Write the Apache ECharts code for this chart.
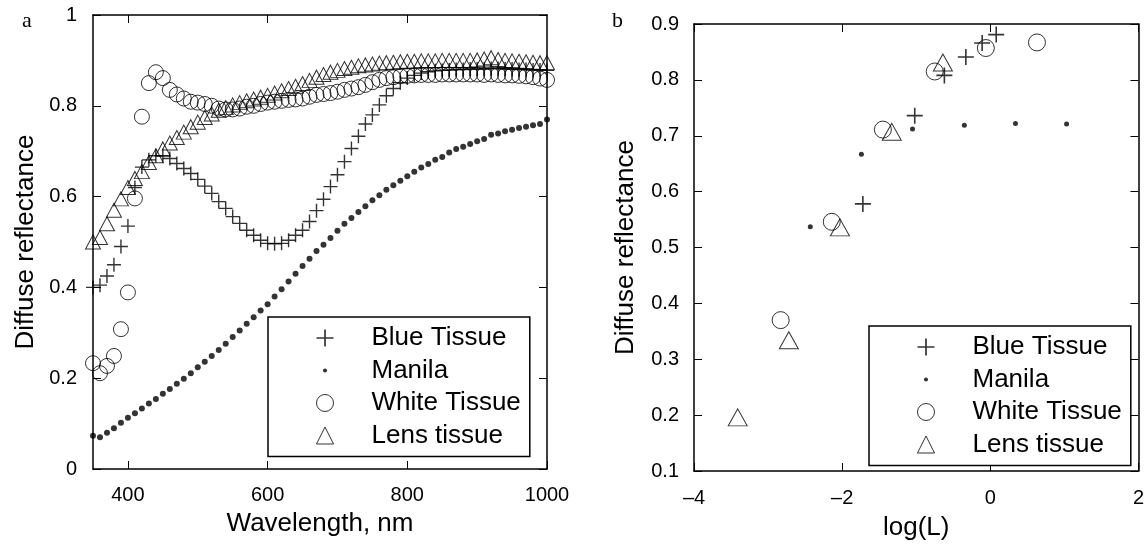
<!DOCTYPE html>
<html>
<head>
<meta charset="utf-8">
<script src="https://cdn.jsdelivr.net/npm/echarts@6/dist/echarts.min.js"></script>
</head>
<body style="margin:0">
<div id="container" style="width:1147px;height:546px"></div>
<script>
// panel a: reflectance spectra, one point every 10 nm
var wavelength = [350, 360, 370, 380, 390, 400, 410, 420, 430, 440, 450, 460, 470, 480, 490, 500, 510, 520, 530, 540,
  550, 560, 570, 580, 590, 600, 610, 620, 630, 640, 650, 660, 670, 680, 690, 700, 710, 720, 730, 740,
  750, 760, 770, 780, 790, 800, 810, 820, 830, 840, 850, 860, 870, 880, 890, 900, 910, 920, 930, 940,
  950, 960, 970, 980, 990, 1000];
var blueTissue = [0.400, 0.405, 0.425, 0.450, 0.490, 0.535, 0.620, 0.665, 0.681, 0.690, 0.690, 0.684, 0.673, 0.662, 0.651, 0.638, 0.623, 0.607, 0.589, 0.574,
  0.556, 0.541, 0.526, 0.515, 0.504, 0.497, 0.496, 0.497, 0.504, 0.515, 0.526, 0.545, 0.569, 0.594, 0.622, 0.648, 0.677, 0.706, 0.733, 0.760,
  0.780, 0.802, 0.822, 0.838, 0.851, 0.861, 0.867, 0.872, 0.875, 0.877, 0.878, 0.879, 0.880, 0.880, 0.881, 0.881, 0.881, 0.882, 0.882, 0.881,
  0.881, 0.880, 0.880, 0.879, 0.879, 0.878];
var manila = [0.073, 0.070, 0.080, 0.090, 0.102, 0.113, 0.123, 0.133, 0.144, 0.154, 0.166, 0.176, 0.188, 0.199, 0.211, 0.224, 0.236, 0.249, 0.262, 0.276,
  0.291, 0.305, 0.320, 0.334, 0.349, 0.363, 0.380, 0.396, 0.413, 0.430, 0.447, 0.463, 0.480, 0.494, 0.509, 0.525, 0.540, 0.553, 0.566, 0.579,
  0.592, 0.603, 0.615, 0.625, 0.635, 0.645, 0.655, 0.664, 0.672, 0.681, 0.687, 0.697, 0.705, 0.710, 0.716, 0.722, 0.727, 0.736, 0.739, 0.744,
  0.747, 0.751, 0.754, 0.757, 0.760, 0.770];
var whiteTissue = [0.233, 0.211, 0.227, 0.249, 0.308, 0.389, 0.596, 0.776, 0.850, 0.874, 0.861, 0.835, 0.825, 0.816, 0.809, 0.807, 0.804, 0.800, 0.794, 0.792,
  0.792, 0.794, 0.798, 0.800, 0.804, 0.807, 0.809, 0.811, 0.813, 0.814, 0.816, 0.820, 0.824, 0.826, 0.828, 0.831, 0.835, 0.838, 0.841, 0.846,
  0.852, 0.857, 0.861, 0.863, 0.865, 0.866, 0.867, 0.868, 0.868, 0.868, 0.869, 0.869, 0.869, 0.869, 0.869, 0.869, 0.868, 0.869, 0.868, 0.867,
  0.867, 0.866, 0.865, 0.863, 0.860, 0.857];
var lensTissue = [0.500, 0.510, 0.540, 0.570, 0.595, 0.620, 0.640, 0.655, 0.675, 0.690, 0.705, 0.718, 0.730, 0.742, 0.754, 0.764, 0.774, 0.782, 0.790, 0.796,
  0.802, 0.807, 0.811, 0.815, 0.819, 0.823, 0.828, 0.833, 0.838, 0.843, 0.849, 0.856, 0.863, 0.869, 0.874, 0.878, 0.882, 0.885, 0.888, 0.890,
  0.892, 0.894, 0.895, 0.896, 0.897, 0.898, 0.898, 0.899, 0.899, 0.899, 0.900, 0.900, 0.900, 0.900, 0.900, 0.901, 0.903, 0.906, 0.902, 0.900,
  0.899, 0.898, 0.897, 0.896, 0.895, 0.895];

// panel b: reflectance against log(L)
var blueLogL = [-1.72, -1.02, -0.62, -0.33, -0.11, 0.08];
var blueR = [0.578, 0.736, 0.808, 0.841, 0.866, 0.881];
var manilaLogL = [-2.43, -1.74, -1.05, -0.35, 0.34, 1.03];
var manilaR = [0.537, 0.667, 0.712, 0.719, 0.722, 0.721];
var whiteLogL = [-2.83, -2.14, -1.45, -0.75, -0.06, 0.63];
var whiteR = [0.370, 0.546, 0.711, 0.815, 0.857, 0.867];
var lensLogL = [-3.41, -2.72, -2.03, -1.33, -0.64, 0.05];
var lensR = [0.196, 0.334, 0.536, 0.707, 0.831, 0.901];

var seriesNames = ['Blue Tissue', 'Manila', 'White Tissue', 'Lens tissue'];
var xTicksA = [400, 600, 800, 1000];

var font = 'Liberation Sans, Arial, sans-serif';
var plusPath = 'path://M9,0h2v9h9v2h-9v9h-2v-9h-9v-2h9z';
var dotIcon = 'path://M0,0M20,20M7.6,10a2.4,2.4 0 1,0 4.8,0a2.4,2.4 0 1,0 -4.8,0z';

function pairs(xs, ys) {
  return xs.map(function (x, i) { return [x, ys[i]]; });
}

var dom = document.getElementById('container');
var myChart = echarts.init(dom, null, { renderer: 'canvas' });

var axisLine = { show: true, onZero: false, lineStyle: { color: '#000', width: 1.5 } };
var tick = { show: true, inside: true, length: 8, lineStyle: { color: '#000', width: 1 } };
var label = { color: '#000', fontSize: 20, fontFamily: font };
var nameStyle = { color: '#000', fontSize: 26, fontFamily: font };

function mkLegend(left, top) {
  return {
    orient: 'vertical',
    left: left,
    top: top,
    data: [
      { name: seriesNames[0], icon: plusPath },
      { name: seriesNames[1], icon: dotIcon },
      { name: seriesNames[2], icon: 'circle' },
      { name: seriesNames[3], icon: 'triangle' }
    ],
    itemWidth: 17,
    itemHeight: 17,
    itemGap: 6.5,
    padding: [8, 9, 8, 48],
    borderColor: '#000',
    borderWidth: 1.5,
    backgroundColor: '#fff',
    selectedMode: false,
    itemStyle: { borderWidth: 1 },
    textStyle: { color: '#000', fontSize: 26, fontFamily: font, lineHeight: 26, padding: [0, 0, 0, 33] }
  };
}

function mkSeries(gi, sizes, d) {
  var open = { color: 'rgba(0,0,0,0)', borderColor: '#000', borderWidth: 1 };
  return [
    { name: seriesNames[0], type: 'scatter', xAxisIndex: gi * 2, yAxisIndex: gi * 2, symbol: plusPath,
      symbolSize: sizes[0], itemStyle: { color: '#000' }, data: d[0] },
    { name: seriesNames[1], type: 'scatter', xAxisIndex: gi * 2, yAxisIndex: gi * 2, symbol: 'circle',
      symbolSize: sizes[1], itemStyle: { color: '#000' }, data: d[1] },
    { name: seriesNames[2], type: 'scatter', xAxisIndex: gi * 2, yAxisIndex: gi * 2, symbol: 'circle',
      symbolSize: sizes[2], itemStyle: open, data: d[2] },
    { name: seriesNames[3], type: 'scatter', xAxisIndex: gi * 2, yAxisIndex: gi * 2, symbol: 'triangle',
      symbolSize: sizes[3], itemStyle: open, data: d[3] }
  ];
}

var option = {
  animation: false,
  backgroundColor: '#fff',
  title: [
    { text: 'a', left: 17, top: 5, textStyle: { fontFamily: 'Liberation Serif, serif', fontSize: 22, fontWeight: 'normal', color: '#000' } },
    { text: 'b', left: 607, top: 5, textStyle: { fontFamily: 'Liberation Serif, serif', fontSize: 22, fontWeight: 'normal', color: '#000' } }
  ],
  grid: [
    { left: 93, top: 15, width: 454, height: 454 },
    { left: 694, top: 24, width: 454, height: 454 }
  ],
  legend: [mkLegend(268, 317), mkLegend(869, 326)],
  xAxis: [
    { type: 'value', gridIndex: 0, min: 350, max: 1000, axisLine: axisLine,
      axisTick: Object.assign({}, tick, { customValues: xTicksA }),
      axisLabel: Object.assign({}, label, { margin: 16, customValues: xTicksA, formatter: function (v) { return String(v); } }),
      splitLine: { show: false },
      name: 'Wavelength, nm', nameLocation: 'middle', nameGap: 42, nameTextStyle: nameStyle },
    { type: 'value', gridIndex: 0, position: 'top', min: 350, max: 1000, axisLine: axisLine,
      axisTick: Object.assign({}, tick, { customValues: [400, 600, 800] }),
      axisLabel: { show: false }, splitLine: { show: false } },
    { type: 'value', gridIndex: 1, min: -4, max: 2, interval: 2, axisLine: axisLine, axisTick: tick,
      axisLabel: Object.assign({}, label, { margin: 17, formatter: function (v) { return String(v).replace('-', '\u2013'); } }),
      splitLine: { show: false },
      name: 'log(L)', nameLocation: 'middle', nameGap: 44, nameTextStyle: nameStyle },
    { type: 'value', gridIndex: 1, position: 'top', min: -4, max: 2, interval: 2, axisLine: axisLine, axisTick: tick,
      axisLabel: { show: false }, splitLine: { show: false } }
  ],
  yAxis: [
    { type: 'value', gridIndex: 0, min: 0, max: 1, interval: 0.2, axisLine: axisLine, axisTick: tick,
      axisLabel: Object.assign({}, label, { margin: 16 }), splitLine: { show: false },
      name: 'Diffuse reflectance', nameLocation: 'middle', nameGap: 54, nameTextStyle: nameStyle },
    { type: 'value', gridIndex: 0, position: 'right', min: 0, max: 1, interval: 0.2, axisLine: axisLine, axisTick: tick,
      axisLabel: { show: false }, splitLine: { show: false } },
    { type: 'value', gridIndex: 1, min: 0.1, max: 0.9, interval: 0.1, axisLine: axisLine, axisTick: tick,
      axisLabel: Object.assign({}, label, { margin: 15, formatter: function (v) { return v.toFixed(1); } }),
      splitLine: { show: false },
      name: 'Diffuse reflectance', nameLocation: 'middle', nameGap: 55, nameTextStyle: nameStyle },
    { type: 'value', gridIndex: 1, position: 'right', min: 0.1, max: 0.9, interval: 0.1, axisLine: axisLine, axisTick: tick,
      axisLabel: { show: false }, splitLine: { show: false } }
  ],
  series: [].concat(
    mkSeries(0, [14, 6, 15, [15, 14]], [
      pairs(wavelength, blueTissue), pairs(wavelength, manila),
      pairs(wavelength, whiteTissue), pairs(wavelength, lensTissue)
    ]),
    mkSeries(1, [16, 5, 17, [19, 17]], [
      pairs(blueLogL, blueR), pairs(manilaLogL, manilaR),
      pairs(whiteLogL, whiteR), pairs(lensLogL, lensR)
    ])
  )
};

myChart.setOption(option);
window.addEventListener('resize', myChart.resize);
</script>
</body>
</html>
